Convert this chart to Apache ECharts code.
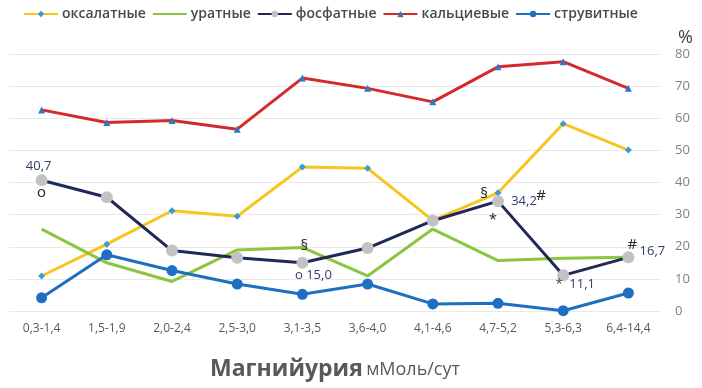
<!DOCTYPE html>
<html>
<head>
<meta charset="utf-8">
<script src="https://cdn.jsdelivr.net/npm/echarts@6/dist/echarts.min.js"></script>
<style>
html,body{margin:0;padding:0;background:#fff;}
#chart{width:702px;height:388px;}
</style>
</head>
<body>
<div id="chart"></div>
<script>
// категории магнийурии
var categories = ['0,3-1,4','1,5-1,9','2,0-2,4','2,5-3,0','3,1-3,5','3,6-4,0','4,1-4,6','4,7-5,2','5,3-6,3','6,4-14,4'];
var yTicks = [0, 10, 20, 30, 40, 50, 60, 70, 80];

var oxalate   = [10.9, 20.8, 31.2, 29.5, 44.8, 44.4, 28.2, 36.8, 58.3, 50.1];
var urate     = [25.5, 15.0, 9.2, 19.0, 19.8, 10.9, 25.5, 15.7, 16.4, 16.7];
var phosphate = [40.7, 35.4, 18.8, 16.6, 15.0, 19.6, 28.1, 34.2, 11.1, 16.7];
var calcium   = [62.6, 58.7, 59.3, 56.6, 72.5, 69.3, 65.1, 76.0, 77.6, 69.3];
var struvite  = [4.1, 17.5, 12.6, 8.4, 5.2, 8.4, 2.2, 2.4, 0.1, 5.6];

// подписи у фосфатных точек: [индекс, текст]
var phosNotes = [[0,'40,7'],[0,'o'],[4,'§'],[4,'o 15,0'],[7,'§'],[7,'34,2'],[7,'#'],[7,'*'],[8,'*  11,1'],[9,'#'],[9,'16,7']];

var chart = echarts.init(document.getElementById('chart'));
var font = 'Open Sans';

// смещения подписей (в пикселях)
var noteOffsets = [[-3,-14],[0,12],[2,-17],[11,12],[-14,-7],[26,0],[43,-5],[-5,19],[12,9],[4,-13],[24,-6]];
var symbolNotes = ['o','§','*','#'];

var markData = phosNotes.map(function(n, i){
	var isSym = symbolNotes.indexOf(n[1]) >= 0;
	return {
		coord: [n[0], phosphate[n[0]]],
		value: n[1],
		label: {
			show: true,
			formatter: n[1],
			offset: noteOffsets[i],
			color: isSym ? '#262626' : '#2e3d6b',
			fontSize: isSym ? 15 : 13,
			fontFamily: font
		}
	};
});

function lineSeries(name, data, color, symbol, symbolColor, symbolSize){
	return {
		name: name, type: 'line', data: data,
		symbol: symbol, symbolSize: symbolSize, showSymbol: symbol != 'none',
		lineStyle: {color: color, width: 3},
		itemStyle: {color: symbolColor, borderWidth: 0},
		emphasis: {disabled: true},
		z: 2
	};
}

var series = [
	lineSeries('оксалатные', oxalate, '#f6c61e', 'diamond', '#3c9bd6', 7),
	lineSeries('уратные', urate, '#8cc53f', 'none', '#8cc53f', 0),
	lineSeries('фосфатные', phosphate, '#1f2859', 'circle', '#c2c2c4', 12),
	lineSeries('кальциевые', calcium, '#d42a2c', 'triangle', '#2f78c4', 7),
	lineSeries('струвитные', struvite, '#1f6fc1', 'circle', '#1f6fc1', 11)
];
series[2].z = 3;
series[2].markPoint = {symbol: 'circle', symbolSize: 0, silent: true, data: markData};

var option = {
	animation: false,
	title: {text: '%', right: 4, top: 24, textStyle: {fontSize: 18, fontWeight: 'normal', color: '#404040', fontFamily: font}},
	legend: {
		top: 2, left: 18, itemWidth: 34, itemHeight: 8, itemGap: 6,
		textStyle: {fontSize: 14, fontWeight: 600, color: '#4a4a4a', fontFamily: font, padding: [0,0,0,-1]},
		data: ['оксалатные', {name: 'уратные', itemStyle: {opacity: 0}}, 'фосфатные', 'кальциевые', 'струвитные']
	},
	grid: {left: 9, right: 41, top: 54, bottom: 77},
	xAxis: {
		type: 'category', data: categories, boundaryGap: true,
		axisLine: {show: false}, axisTick: {show: false},
		axisLabel: {color: '#595959', fontSize: 12, fontFamily: font, margin: 12, interval: 0},
		name: '{b|Магнийурия} {n|мМоль/сут}', nameLocation: 'middle', nameGap: 47,
		nameTextStyle: {rich: {
			b: {fontSize: 23, fontWeight: 'bold', color: '#595959', fontFamily: font},
			n: {fontSize: 18, color: '#595959', fontFamily: font}
		}}
	},
	yAxis: {
		type: 'value', position: 'right', min: yTicks[0], max: yTicks[yTicks.length-1], interval: 10,
		axisLine: {show: false}, axisTick: {show: false},
		axisLabel: {color: '#808080', fontSize: 13, fontFamily: font, margin: 14},
		splitLine: {lineStyle: {color: '#e9e9e9', width: 1}}
	},
	series: series
};
chart.setOption(option);
</script>
</body>
</html>
